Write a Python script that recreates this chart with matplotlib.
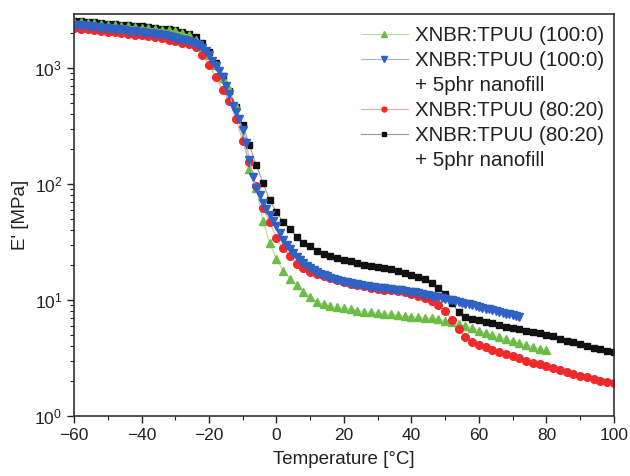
import numpy as np
import matplotlib
matplotlib.use('Agg')
import matplotlib.pyplot as plt
from matplotlib.lines import Line2D
from matplotlib.ticker import MultipleLocator, LogLocator, NullFormatter

plt.rcParams['font.family'] = ['Liberation Sans', 'DejaVu Sans']
plt.rcParams['mathtext.fontset'] = 'custom'
plt.rcParams['mathtext.rm'] = 'Liberation Sans'

# storage modulus E' [MPa]
# XNBR:TPUU (80:20) + 5phr nanofill, every 2 degC from -60 to 100
temp_black = list(range(-60, 101, 2))
e_black = [2550, 2520, 2490, 2460, 2430, 2400, 2380, 2350, 2320, 2300,
           2270, 2240, 2210, 2180, 2140, 2100, 2040, 1960, 1830, 1640,
           1380, 1100, 850, 630, 460, 322, 215, 145, 102, 72,
           57, 47, 41, 35, 31, 29, 26.5, 25, 24, 23,
           22.2, 21.5, 20.8, 20.2, 19.6, 19.2, 18.8, 18.4, 17.8, 17,
           16.3, 15.8, 15.2, 14, 12.8, 11.3, 9.4, 7.8, 7.2, 6.9,
           6.7, 6.5, 6.3, 6.1, 5.9, 5.75, 5.6, 5.45, 5.3, 5.15,
           5.0, 4.85, 4.65, 4.45, 4.3, 4.15, 4.0, 3.85, 3.75, 3.65, 3.55]

# XNBR:TPUU (80:20), every 2 degC from -60 to 100
temp_red = list(range(-60, 101, 2))
e_red = [2200, 2170, 2140, 2110, 2080, 2050, 2020, 1990, 1960, 1930,
         1900, 1870, 1830, 1790, 1740, 1690, 1640, 1590, 1500, 1300,
         1060, 830, 650, 520, 360, 235, 155, 95, 62, 47,
         34, 28, 24, 20.5, 18.8, 17.4, 16.6, 16, 15.5, 14.8,
         14.2, 13.8, 13.4, 13.1, 12.8, 12.5, 12.3, 12.1, 11.9, 11.7,
         11.3, 10.9, 10.4, 9.8, 9.0, 8.0, 6.7, 5.6, 4.8, 4.35,
         4.1, 3.9, 3.7, 3.55, 3.4, 3.3, 3.15, 3.0, 2.86, 2.78,
         2.7, 2.6, 2.5, 2.4, 2.3, 2.22, 2.15, 2.08, 2.02, 1.97, 1.92]

# XNBR:TPUU (100:0), every 2 degC from -60 to 80
temp_green = list(range(-60, 81, 2))
e_green = [2500, 2470, 2440, 2410, 2380, 2350, 2330, 2300, 2280, 2250,
           2220, 2190, 2160, 2130, 2100, 2060, 2000, 1900, 1750, 1550,
           1300, 1050, 820, 660, 470, 250, 135, 92, 48, 31,
           22.5, 17.8, 15.3, 13.4, 11.8, 10.6, 9.6, 9.2, 8.9, 8.7,
           8.5, 8.3, 8.1, 7.95, 7.8, 7.7, 7.6, 7.5, 7.4, 7.3,
           7.2, 7.1, 7.0, 6.95, 6.8, 6.6, 6.4, 6.25, 6.0, 5.75,
           5.45, 5.2, 5.0, 4.8, 4.6, 4.4, 4.25, 4.1, 3.95, 3.8, 3.7]

# XNBR:TPUU (100:0) + 5phr nanofill, every 1 degC from -60 to 72
temp_blue = list(range(-60, 73, 1))
e_blue = [2350, 2340, 2320, 2300, 2290, 2270, 2250, 2240, 2220, 2200,
          2190, 2170, 2160, 2140, 2120, 2110, 2090, 2080, 2060, 2040,
          2030, 2010, 2000, 1980, 1960, 1940, 1920, 1900, 1870, 1840,
          1810, 1780, 1750, 1720, 1700, 1670, 1620, 1560, 1480, 1390,
          1290, 1150, 1040, 940, 830, 700, 600, 470, 420, 360,
          290, 225, 160, 115, 93, 80, 69, 61, 54, 48,
          43, 38, 33, 30, 27.5, 25.5, 23.5, 22, 20.8, 19.7,
          18.8, 18.1, 17.4, 16.9, 16.4, 16, 15.6, 15.2, 14.9, 14.6,
          14.4, 14.2, 14.0, 13.8, 13.6, 13.4, 13.3, 13.1, 13.0, 12.9,
          12.8, 12.7, 12.6, 12.5, 12.4, 12.3, 12.2, 12.1, 12.0, 11.8,
          11.7, 11.6, 11.4, 11.3, 11.1, 11.0, 10.8, 10.7, 10.5, 10.4,
          10.2, 10.05, 9.9, 9.75, 9.6, 9.45, 9.3, 9.15, 9.0, 8.85,
          8.7, 8.55, 8.4, 8.3, 8.15, 8.0, 7.9, 7.75, 7.6, 7.5,
          7.4, 7.3, 7.2]

labels = ['XNBR:TPUU (100:0)',
          'XNBR:TPUU (100:0)', '+ 5phr nanofill',
          'XNBR:TPUU (80:20)',
          'XNBR:TPUU (80:20)', '+ 5phr nanofill']

fig = plt.figure(figsize=(6.3, 4.76), dpi=100)
ax = fig.add_axes([0.1175, 0.126, 0.857, 0.845])

h_black, = ax.plot(temp_black, e_black, '-', color='#9a9a9a', lw=0.8,
                   marker='s', ms=5, mfc='#111111', mec='#111111')
h_green, = ax.plot(temp_green, e_green, '-', color='#b5dca0', lw=0.8,
                   marker='^', ms=6, mfc='#6cbd45', mec='#6cbd45')
h_red, = ax.plot(temp_red, e_red, '-', color='#f2a6a6', lw=0.8,
                 marker='o', ms=5.5, mfc='#ee2a2a', mec='#ee2a2a')
h_blue, = ax.plot(temp_blue, e_blue, '-', color='#a6b2e6', lw=0.8,
                  marker='v', ms=6, mfc='#2f62c4', mec='#2f62c4')

ax.set_yscale('log')
ax.set_xlim(-60, 100)
ax.set_ylim(1, 2920)
ax.xaxis.set_major_locator(MultipleLocator(20))
ax.xaxis.set_minor_locator(MultipleLocator(10))
ax.yaxis.set_major_locator(LogLocator(base=10, numticks=10))
ax.yaxis.set_minor_locator(LogLocator(base=10, subs=np.arange(2, 10), numticks=10))
ax.yaxis.set_minor_formatter(NullFormatter())
ax.tick_params(which='both', direction='out', top=False, right=False,
               labelsize=12.5, colors='#222222')
ax.tick_params(which='major', length=5, width=1.0)
ax.tick_params(which='minor', length=3, width=0.8)
for s in ax.spines.values():
    s.set_color('#333333')
    s.set_linewidth(1.2)

ax.set_xlabel('Temperature [°C]', fontsize=13.5, color='#222222', labelpad=6)
ax.set_ylabel("E' [MPa]", fontsize=13.5, color='#222222', labelpad=4)

# second line of the two-line labels gets an empty handle
blank = Line2D([], [], color='none')
leg = ax.legend([h_green, h_blue, blank, h_red, h_black, blank], labels,
                loc='upper right', bbox_to_anchor=(1.005, 1.0), frameon=False,
                fontsize=14.8, handlelength=2.3, handletextpad=0.35,
                labelspacing=0.29, borderaxespad=0.2, markerscale=0.65)
for t in leg.get_texts():
    t.set_color('#222222')

fig.savefig('out.png', dpi=100)
